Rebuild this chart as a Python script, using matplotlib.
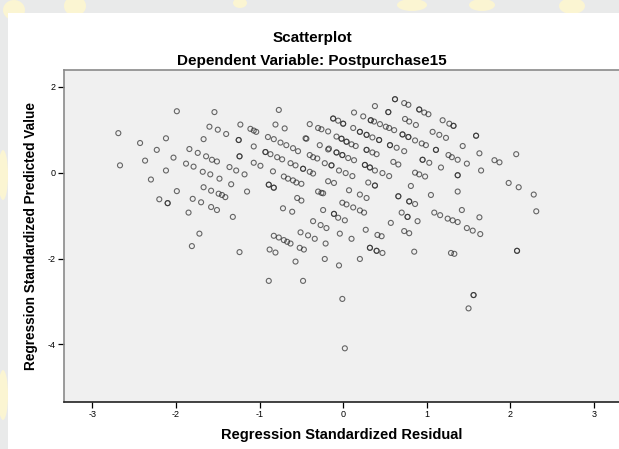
import matplotlib
matplotlib.use("Agg")
import matplotlib.pyplot as plt
from matplotlib.patches import Rectangle, Ellipse

plt.rcParams['font.family'] = ['Liberation Sans', 'DejaVu Sans']

title_main = "Scatterplot"
title_sub = "Dependent Variable: Postpurchase15"
x_label = "Regression Standardized Residual"
y_label = "Regression Standardized Predicted Value"
x_ticks = [-3, -2, -1, 0, 1, 2, 3]
y_ticks = [-4, -2, 0, 2]

# Regression standardized residuals (x) and predicted values (y)
residual = [
    -2.69, -2.67, -1.99, -1.54, -0.77, -2.43, -2.23, -2.12, -2.37, -2.12, -2.03, -2.30, -2.20, -2.10, -2.10,
    -1.99, -1.85, -1.80, -1.70, -1.58, -1.51, -1.32, -1.84, -1.74, -1.67, -1.64, -1.57, -1.51, -1.88, -1.79,
    -1.68, -1.59, -1.48, -1.67, -1.58, -1.49, -1.45, -1.41, -1.60, -1.50, -1.40, -1.23, -1.25, -1.25, -1.24,
    -1.24, -1.36, -1.28, -1.18, -1.34, -1.15, -1.11, -1.07, -1.04, -1.07, -1.07, -0.99, -0.81, -0.70, -0.90,
    -0.83, -0.75, -0.68, -0.60, -0.54, -0.93, -0.93, -0.87, -0.79, -0.73, -0.63, -0.57, -0.48, -0.48, -0.40,
    -0.36, -0.84, -0.89, -0.89, -0.83, -0.83, -0.71, -0.66, -0.60, -0.56, -0.50, -0.72, -0.61, -0.55, -0.50,
    -0.40, -0.30, -0.26, -0.45, -0.44, -0.28, -0.40, -0.36, -0.31, -0.22, -0.30, -0.24, -0.24, -0.36, -0.18,
    -0.18, -0.18,
    -1.72, -1.81, -1.24, -0.83, -0.77, -0.71, -0.67, -0.63, -0.88, -0.81, -0.89, -0.48, -0.57, -0.52, -0.47,
    -0.51, -0.42, -0.34, -0.27, -0.20, -0.21, -0.22,
    0.62, 0.62, 0.73, 0.78, 0.91, 0.91, 0.97, 1.02, 0.38, 0.54, 0.54, 0.13, 0.24, 0.33, 0.33,
    0.37, 0.44, 0.51, 0.55, 0.61, 0.71, 0.71, 0.78, 0.78, 0.86, 0.94, 0.99, 0.74, 0.79, 0.87,
    1.19, 1.27, 1.32, 1.32, 1.07, 1.15, 1.23, 1.59, 1.59, 1.43, 1.63, 2.07, 1.81, 1.87, 1.65,
    1.98, 2.10, 2.28, 2.31, -0.12, -0.12, -0.06, 0.00, 0.00, 0.12, 0.20, 0.20, 0.28, 0.28, 0.35,
    0.43, 0.43, -0.08, -0.02, -0.02, 0.04, 0.04, 0.10, 0.15, -0.17, -0.08, -0.08, -0.01, -0.01, 0.06,
    0.13, 0.28, 0.28, 0.35, 0.40, 0.56, 0.56, 0.64, 0.73, 1.11, 1.11, 1.26, 1.30, 1.37, 1.48,
    0.95, 0.95, 1.03, 0.60, 0.66, 1.17, -0.14, -0.14, -0.05, 0.03, 0.11, 0.26, 0.26, 0.32, 0.32,
    0.38, 0.47, 0.55, 0.86, 0.91, 0.98, 1.37, 1.37, -0.11, 0.30, 0.38, 0.38, 0.81, -0.26, 0.07,
    0.20, 0.28, 0.66, 0.66, 1.05, 1.37, -0.01, 0.04, 0.12, 0.20, 0.25, 0.79, 0.79, 0.86, 1.42,
    -0.11, -0.11, -0.06, 0.02, 0.70, 0.77, 0.77, 1.09, 1.16, 1.25, 1.31, 1.37, 1.63, 0.89, 0.57,
    -0.04, 0.10, -0.05, 0.27, 0.41, 0.46, 0.32, 0.32, 0.40, 0.40, 0.47, 0.20, 0.73, 0.79, 0.85,
    1.48, 1.55, 1.64, 1.29, 1.33, 2.08, 2.08, 1.56, 1.56, 1.50, -0.01, 0.02,
]
predicted = [
    0.92, 0.17, 1.43, 1.41, 1.46, 0.69, 0.53, 0.80, 0.28, 0.05, 0.35, -0.16, -0.62, -0.71, -0.71,
    -0.43, -0.93, -0.61, -0.69, -0.80, -0.87, -1.03, 0.55, 0.46, 0.78, 0.38, 0.30, 0.26, 0.21, 0.14,
    0.02, -0.04, -0.14, -0.34, -0.42, -0.49, -0.52, -0.57, 1.07, 1.00, 0.90, 1.12, 0.76, 0.76, 0.38,
    0.38, 0.13, 0.05, -0.04, -0.27, -0.44, 1.02, 0.98, 0.95, 0.61, 0.23, 0.16, 1.12, 1.03, 0.83,
    0.78, 0.70, 0.64, 0.57, 0.50, 0.48, 0.48, 0.43, 0.36, 0.31, 0.22, 0.17, 0.09, 0.09, 0.02,
    -0.02, 0.03, -0.28, -0.28, -0.35, -0.35, -0.09, -0.14, -0.18, -0.23, -0.26, -0.83, -0.91, -0.59, -0.65,
    1.13, 1.04, 1.01, 0.80, 0.79, 0.64, 0.41, 0.36, 0.33, 0.22, -0.44, -0.48, -0.87, -1.13, 0.96,
    0.54, -0.20,
    -1.42, -1.71, -1.85, -1.47, -1.51, -1.57, -1.61, -1.65, -1.79, -1.86, -2.52, -2.52, -2.07, -1.75, -1.79,
    -1.39, -1.46, -1.54, -1.22, -1.29, -1.65, -2.01,
    1.71, 1.71, 1.62, 1.58, 1.47, 1.47, 1.40, 1.36, 1.55, 1.41, 1.41, 1.40, 1.31, 1.22, 1.22,
    1.19, 1.13, 1.07, 1.04, 0.99, 0.89, 0.89, 0.83, 0.83, 0.75, 0.68, 0.64, 1.25, 1.19, 1.11,
    1.22, 1.14, 1.09, 1.09, 0.95, 0.88, 0.81, 0.86, 0.86, 0.62, 0.45, 0.43, 0.29, 0.24, 0.05,
    -0.24, -0.34, -0.51, -0.90, 1.26, 1.26, 1.21, 1.14, 1.14, 1.04, 0.95, 0.95, 0.88, 0.88, 0.82,
    0.76, 0.76, 0.84, 0.79, 0.79, 0.72, 0.72, 0.66, 0.62, 0.56, 0.47, 0.47, 0.41, 0.41, 0.34,
    0.29, 0.53, 0.53, 0.47, 0.43, 0.64, 0.64, 0.58, 0.50, 0.53, 0.53, 0.41, 0.36, 0.30, 0.21,
    0.30, 0.30, 0.23, 0.25, 0.19, 0.12, 0.17, 0.17, 0.05, -0.01, -0.08, 0.18, 0.18, 0.12, 0.12,
    0.05, -0.01, -0.08, 0.00, -0.04, -0.09, -0.06, -0.06, -0.24, -0.23, -0.30, -0.30, -0.31, -0.47, -0.41,
    -0.51, -0.59, -0.55, -0.55, -0.52, -0.44, -0.70, -0.74, -0.81, -0.88, -0.93, -0.67, -0.67, -0.73, -0.87,
    -0.96, -0.96, -1.05, -1.11, -0.93, -1.03, -1.03, -0.93, -0.99, -1.07, -1.11, -1.15, -1.04, -1.13, -1.17,
    -1.42, -1.54, -2.16, -1.33, -1.45, -1.48, -1.75, -1.75, -1.82, -1.82, -1.87, -2.01, -1.36, -1.41, -1.84,
    -1.29, -1.35, -1.43, -1.87, -1.89, -1.82, -1.82, -2.85, -2.85, -3.16, -2.94, -4.09,
]

W, H = 619, 449
fig = plt.figure(figsize=(W / 100, H / 100), dpi=100)
fig.patch.set_facecolor('#e9eaea')

# faint watermark shapes in the outer margin
for (cx, cy, w, h) in [(14, 10, 22, 20), (75, 6, 22, 20), (240, 3, 14, 10), (412, 5, 30, 12),
                       (482, 5, 26, 12), (572, 6, 26, 16), (3, 175, 10, 50), (3, 395, 10, 50)]:
    fig.patches.append(Ellipse((cx / W, 1 - cy / H), w / W, h / H, transform=fig.transFigure,
                               facecolor='#fbf5d2', edgecolor='none', zorder=0))
fig.patches.append(Rectangle((8 / W, 0), 1 - 8 / W, 1 - 13 / H, transform=fig.transFigure,
                             facecolor='white', edgecolor='none', zorder=1))

left, right, top, bottom = 64, 619, 70, 402
ax = fig.add_axes([left / W, 1 - bottom / H, (right - left) / W, (bottom - top) / H])
ax.set_facecolor('#f0f0f0')
ax.set_zorder(2)

ax.scatter(residual, predicted, s=13, facecolors='none', edgecolors='#2a2a2a',
           linewidths=0.8, alpha=0.7, zorder=3)

ax.set_xlim(-3.34, 3.30)
ax.set_ylim(-5.34, 2.39)
ax.set_xticks(x_ticks)
ax.set_yticks(y_ticks)
ax.set_xticklabels([str(t) for t in x_ticks])
ax.set_yticklabels([str(t) for t in y_ticks])
ax.tick_params(axis='both', direction='out', length=4, width=0.9, labelsize=6.5,
               color='black', pad=2)

for side in ['left', 'top']:
    ax.spines[side].set_color('#8a8a8a')
    ax.spines[side].set_linewidth(1.2)
ax.spines['bottom'].set_color('#222222')
ax.spines['bottom'].set_linewidth(1.2)
ax.spines['right'].set_visible(False)

ax.set_xlabel(x_label, fontsize=10.5, fontweight='bold', labelpad=6)
ax.set_ylabel(y_label, fontsize=9.8, fontweight='bold', labelpad=7)

fig.text(312 / W, 1 - 38 / H, title_main, ha='center', va='center', fontsize=11, fontweight='bold')
fig.text(312 / W, 1 - 61 / H, title_sub, ha='center', va='center', fontsize=11, fontweight='bold')

fig.savefig('out.png', dpi=100)
